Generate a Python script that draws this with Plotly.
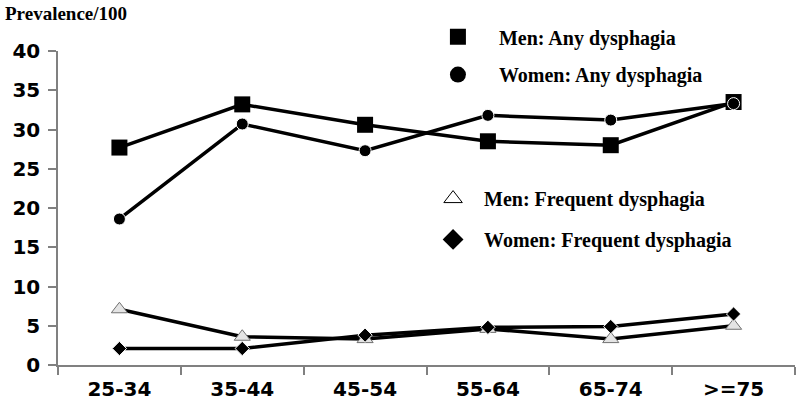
import plotly.graph_objects as go

age_groups = ["25-34", "35-44", "45-54", "55-64", "65-74", ">=75"]
men_any = [27.7, 33.2, 30.6, 28.5, 28.0, 33.5]
women_any = [18.6, 30.7, 27.3, 31.8, 31.2, 33.3]
men_freq = [7.1, 3.6, 3.3, 4.6, 3.3, 5.0]
women_freq = [2.1, 2.1, 3.8, 4.8, 4.9, 6.5]

series_names = ["Men: Any dysphagia", "Women: Any dysphagia",
                "Men: Frequent dysphagia", "Women: Frequent dysphagia"]
y_title = "Prevalence/100"

markers = [
    dict(symbol="square", size=16, color="black", line=dict(color="black", width=0)),
    dict(symbol="circle", size=12, color="black", line=dict(color="white", width=1)),
    dict(symbol="triangle-up", size=14, color="#e4e4e4", line=dict(color="#707070", width=1)),
    dict(symbol="diamond", size=11, color="black", line=dict(color="white", width=1)),
]
legend_markers = [
    dict(symbol="square", size=16, color="black"),
    dict(symbol="circle", size=16, color="black"),
    dict(symbol="triangle-up", size=16, color="white", line=dict(color="black", width=1)),
    dict(symbol="diamond", size=16, color="black"),
]
legend_ids = ["legend", "legend2", "legend3", "legend4"]

fig = go.Figure()
for vals, mk in zip([men_any, women_any, men_freq, women_freq], markers):
    fig.add_trace(go.Scatter(x=age_groups, y=vals, mode="lines+markers",
                             line=dict(color="black", width=3.5),
                             marker=mk, showlegend=False, cliponaxis=False))
for name, mk, lid in zip(series_names, legend_markers, legend_ids):
    fig.add_trace(go.Scatter(x=[None], y=[None], mode="markers", name=name,
                             marker=mk, legend=lid, showlegend=True))

W, H = 800, 404
ML, MR, MT, MB = 58, 5, 51, 39
PW = W - ML - MR
PH = H - MT - MB

legfont = dict(family="Liberation Serif", size=20, color="black", weight="bold")
leg_common = dict(font=legfont, bgcolor="rgba(0,0,0,0)", borderwidth=0,
                  xanchor="left", yanchor="middle")
fig.update_layout(
    width=W, height=H,
    margin=dict(l=ML, r=MR, t=MT, b=MB, autoexpand=False),
    paper_bgcolor="white", plot_bgcolor="white",
    legend=dict(x=0.487, y=1.045, itemwidth=72, **leg_common),
    legend2=dict(x=0.487, y=0.925, itemwidth=72, **leg_common),
    legend3=dict(x=0.494, y=0.53, itemwidth=52, **leg_common),
    legend4=dict(x=0.494, y=0.40, itemwidth=52, **leg_common),
    xaxis=dict(type="category", range=[-0.5, 5.5], tickson="boundaries",
               ticks="outside", ticklen=8, tickcolor="#808080", tickwidth=1.5,
               showline=True, linecolor="#808080", linewidth=1.5,
               showgrid=False, zeroline=False, ticklabelstandoff=5,
               tickfont=dict(family="DejaVu Sans", size=20, color="black", weight="bold")),
    yaxis=dict(range=[0, 40], dtick=5, ticks="outside", ticklen=8,
               tickcolor="#808080", tickwidth=1.5,
               showline=True, linecolor="#808080", linewidth=1.5,
               showgrid=False, zeroline=False, ticklabelstandoff=4,
               tickfont=dict(family="DejaVu Sans", size=20, color="black", weight="bold")),
    annotations=[dict(text=y_title, xref="paper", yref="paper",
                      x=-55 / PW, y=1 + 37 / PH, xanchor="left", yanchor="middle",
                      showarrow=False,
                      font=dict(family="Liberation Serif", size=19, color="black", weight="bold"))],
)
fig.write_html("out.html", config={"displayModeBar": False},
               post_script="document.body.style.margin='0';document.body.style.overflow='hidden';")
